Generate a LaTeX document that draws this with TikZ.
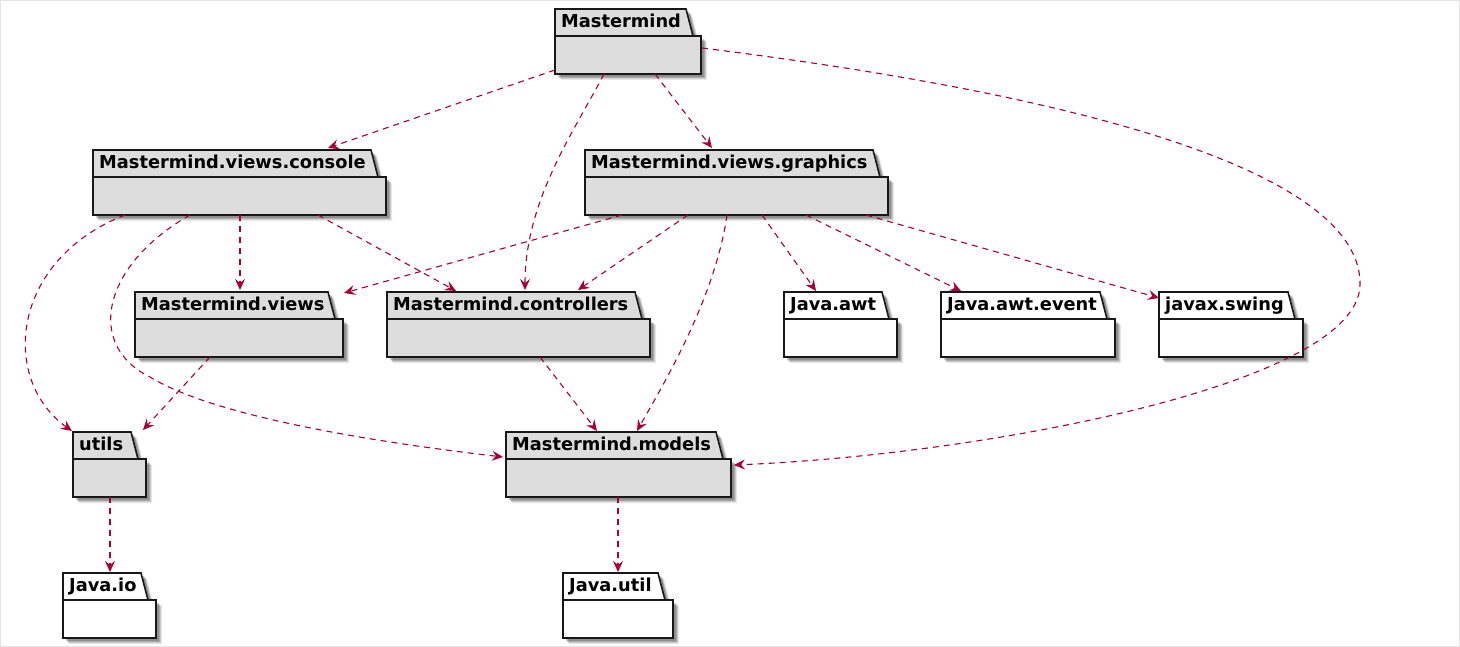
\documentclass[tikz,border=0pt]{standalone}
\usepackage{fontspec}
\setmainfont{DejaVu Sans}
\usetikzlibrary{arrows.meta,calc}
\definecolor{arr}{HTML}{A80036}
\definecolor{pkgfill}{HTML}{DDDDDD}
\definecolor{pkgedge}{HTML}{181818}
\tikzset{
  pkgline/.style={draw=pkgedge, line width=1.6pt, line join=miter},
  pkglabel/.style={anchor=base west, inner sep=0pt, font=\bfseries\fontsize{17.8}{20}\selectfont},
  dep/.style={draw=arr, line width=1.1pt, dash pattern=on 6pt off 5pt,
    -{Stealth[length=11pt,width=10pt,inset=4pt]}},
}
% #1 id, #2 left, #3 top, #4 right, #5 label, #6 fill
\newcommand{\pkgdraw}[6]{%
  \foreach \o/\op in {6/0.08,5/0.12,4/0.15,3/0.18}{%
    \fill[black,opacity=\op] ({#2+\o},{#3+\o}) -- ({#4-15+\o},{#3+\o}) -- ({#4-8+\o},{#3+27+\o}) -- ({#4+\o},{#3+27+\o}) -- ({#4+\o},{#3+65+\o}) -- ({#2+\o},{#3+65+\o}) -- cycle;}
  \node[inner sep=0pt, outer sep=0pt, minimum width={#4-#2}, minimum height=65, anchor=north west] (#1) at (#2,#3) {};
  \filldraw[pkgline, fill=#6] (#2,#3) -- ({#4-15},#3) -- ({#4-8},{#3+27}) -- (#4,{#3+27}) -- (#4,{#3+65}) -- (#2,{#3+65}) -- cycle;
  \draw[pkgline] (#2,{#3+27}) -- ({#4-8},{#3+27});
  \node[pkglabel] (#1-lab) at ({#2+6},{#3+18.5}) {#5};
}
\begin{document}
\begin{tikzpicture}[x=1pt,y=-1pt]
\useasboundingbox (0,0) rectangle (1460,647);
\fill[white] (0,0) rectangle (1460,647);
\draw[black!10, line width=1pt] (0.5,0.5) rectangle (1459.5,646.5);

\pkgdraw{M}{555}{9}{701}{Mastermind}{pkgfill}
\pkgdraw{console}{93}{150}{386}{Mastermind.views.console}{pkgfill}
\pkgdraw{graphics}{585}{150}{888}{Mastermind.views.graphics}{pkgfill}
\pkgdraw{views}{135}{292}{343}{Mastermind.views}{pkgfill}
\pkgdraw{controllers}{387}{292}{650}{Mastermind.controllers}{pkgfill}
\pkgdraw{awt}{784}{292}{897}{Java.awt}{white}
\pkgdraw{event}{941}{292}{1115}{Java.awt.event}{white}
\pkgdraw{swing}{1159}{292}{1303}{javax.swing}{white}
\pkgdraw{utils}{73}{432}{146}{utils}{pkgfill}
\pkgdraw{models}{506}{432}{731}{Mastermind.models}{pkgfill}
\pkgdraw{io}{63}{573}{156}{Java.io}{white}
\pkgdraw{jutil}{563}{573}{673}{Java.util}{white}

\draw[dep] ($(M.north west)+(0,61)$) -- ($(console.north west)+(235,-2)$);
\draw[dep] ($(M.north west)+(49,65)$) .. controls (575,130) and (525,200) .. ($(controllers.north west)+(138,-2)$);
\draw[dep] ($(M.north west)+(100,65)$) -- ($(graphics.north west)+(127,-2)$);
\draw[dep] ($(M.north west)+(147,39)$) .. controls (1200,110) and (1362,200) .. (1360,285) .. controls (1358,385) and (980,455) .. ($(models.north west)+(228,33)$);

\draw[dep] ($(console.north west)+(32,65)$) .. controls (10,260) and (0,380) .. ($(utils.north west)+(-1,-1)$);
\draw[dep] ($(console.north west)+(97,65)$) .. controls (102,265) and (85,345) .. (150,377) .. controls (220,420) and (400,445) .. ($(models.north west)+(-3,25)$);
\draw[dep] ($(console.north west)+(147,65)$) -- ($(views.north west)+(105,-2)$);
\draw[dep] ($(console.north west)+(225,65)$) -- ($(controllers.north west)+(69,-1)$);

\draw[dep] ($(graphics.north west)+(37,65)$) -- ($(views.north west)+(209,1)$);
\draw[dep] ($(graphics.north west)+(103,65)$) -- ($(controllers.north west)+(191,-2)$);
\draw[dep] ($(graphics.north west)+(142,65)$) .. controls (715,300) and (660,390) .. ($(models.north west)+(131,-1)$);
\draw[dep] ($(graphics.north west)+(177,65)$) -- ($(awt.north west)+(32,-1)$);
\draw[dep] ($(graphics.north west)+(221,65)$) -- ($(event.north west)+(20,-1)$);
\draw[dep] ($(graphics.north west)+(281,65)$) -- ($(swing.north west)+(0,6)$);

\draw[dep] ($(views.north west)+(75,65)$) -- ($(utils.north west)+(70,-2)$);
\draw[dep] ($(controllers.north west)+(153,65)$) -- ($(models.north west)+(91,-1)$);
\draw[dep] ($(utils.north west)+(37,65)$) -- ($(io.north west)+(47,-1)$);
\draw[dep] ($(models.north west)+(112,65)$) -- ($(jutil.north west)+(55,-1)$);
\end{tikzpicture}
\end{document}
